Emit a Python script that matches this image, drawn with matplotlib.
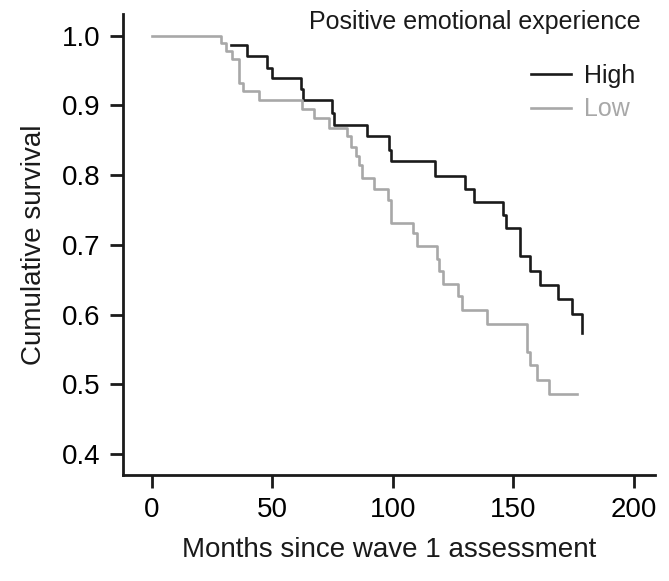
import matplotlib
matplotlib.use('Agg')
import matplotlib.pyplot as plt

plt.rcParams['font.family'] = ['Liberation Sans', 'DejaVu Sans']

# Kaplan-Meier steps (months, survival after event)
high_t = [32.8, 39.7, 48.0, 50.0, 61.8, 62.8, 74.6, 75.7, 89.5, 98.5, 99.4,
          117.4, 130.0, 133.7, 145.9, 146.9, 152.8, 157.0, 160.9, 168.6, 174.5, 178.4]
high_s = [0.986, 0.971, 0.954, 0.939, 0.923, 0.907, 0.889, 0.872, 0.856, 0.836, 0.820,
          0.799, 0.780, 0.762, 0.743, 0.724, 0.684, 0.663, 0.643, 0.623, 0.601, 0.574]

low_t = [0, 28.6, 30.7, 33.5, 36.2, 38.0, 44.5, 62.5, 67.3, 73.6, 81.2, 82.6, 84.6,
         86.0, 87.4, 92.3, 98.0, 99.4, 108.4, 110.0, 118.3, 119.2, 121.0, 127.0,
         128.9, 138.9, 155.9, 157.0, 160.0, 164.9, 176.6]
low_s = [1.0, 0.9895, 0.9775, 0.9665, 0.932, 0.920, 0.907, 0.895, 0.882, 0.868, 0.856,
         0.841, 0.827, 0.815, 0.796, 0.780, 0.765, 0.732, 0.717, 0.698, 0.680, 0.663,
         0.644, 0.626, 0.607, 0.587, 0.547, 0.528, 0.506, 0.486, 0.486]

xticks = [0, 50, 100, 150, 200]
yticks = [0.4, 0.5, 0.6, 0.7, 0.8, 0.9, 1.0]

fig = plt.figure(figsize=(6.69, 5.81), dpi=100)
ax = fig.add_axes([123 / 669, 106 / 581, 532 / 669, 461 / 581])

ax.step(high_t, high_s, where='post', color='#1a1a1a', lw=1.9, label='High')
ax.step(low_t, low_s, where='post', color='#a8a8a8', lw=1.9, label='Low')

ax.set_xlim(-11.9, 208.8)
ax.set_ylim(0.37, 1.031)
ax.set_xticks(xticks)
ax.set_yticks(yticks)
ax.set_yticklabels(['%.1f' % v for v in yticks])

for s in ['top', 'right']:
    ax.spines[s].set_visible(False)
for s in ['left', 'bottom']:
    ax.spines[s].set_linewidth(2.0)
    ax.spines[s].set_color('#1a1a1a')
ax.tick_params(width=2.0, length=9.5, labelsize=20, color='#1a1a1a', pad=6.5)

ax.set_xlabel('Months since wave 1 assessment', fontsize=20, labelpad=10, color='#1a1a1a')
ax.set_ylabel('Cumulative survival', fontsize=20, labelpad=11, color='#1a1a1a')

fig.text(641 / 669, 1 - 22 / 581, 'Positive emotional experience', fontsize=18,
         ha='right', va='center', color='#1a1a1a')
leg = ax.legend(loc='upper left', bbox_to_anchor=(531 / 669, 1 - 64 / 581),
                bbox_transform=fig.transFigure, frameon=False, fontsize=18,
                handlelength=1.6, handletextpad=0.5, labelspacing=0.38,
                labelcolor='linecolor', borderpad=0, borderaxespad=0)

fig.savefig('out.png', dpi=100)
